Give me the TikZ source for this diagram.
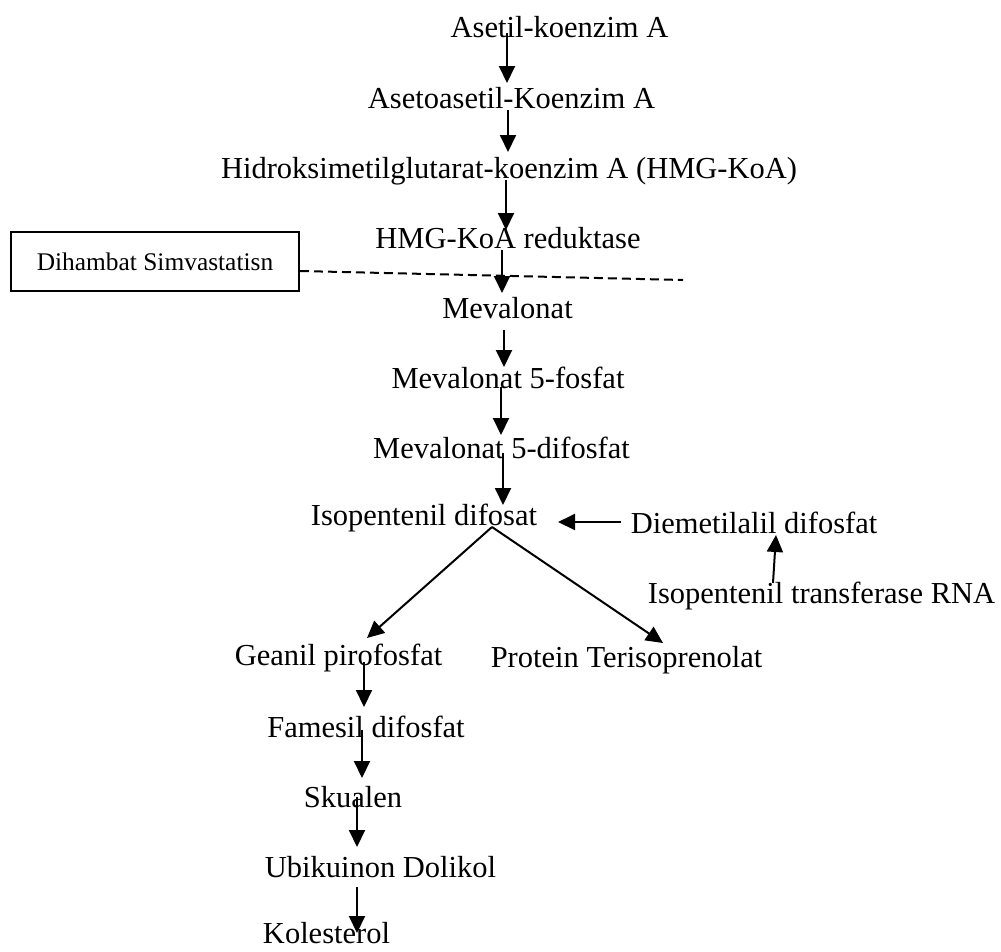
\documentclass[tikz,border=0pt]{standalone}
\usepackage{fontspec}
\setmainfont{Liberation Serif}
\usetikzlibrary{arrows.meta}
\begin{document}
\begin{tikzpicture}[x=1pt,y=-1pt,
  lbl/.style={inner sep=0pt,anchor=base,font=\fontsize{30.5}{36}\selectfont},
  boxnode/.style={draw,line width=2pt,minimum width=288pt,minimum height=59pt,inner sep=0pt,font=\fontsize{25.4}{30}\selectfont},
  arr/.style={line width=2pt,-{Triangle[length=17pt,width=16pt]}},
  dashline/.style={line width=2pt,dash pattern=on 9pt off 5pt}]
\useasboundingbox (0,0) rectangle (1001,951);
\node[lbl] (n1) at (559.5,37) {Asetil-koenzim A};
\node[lbl] (n2) at (511.5,108) {Asetoasetil-Koenzim A};
\node[lbl] (n3) at (509,178) {Hidroksimetilglutarat-koenzim A (HMG-KoA)};
\node[lbl] (n4) at (508,248) {HMG-KoA reduktase};
\node[lbl] (n5) at (507.5,318) {Mevalonat};
\node[lbl] (n6) at (508,388) {Mevalonat 5-fosfat};
\node[lbl] (n7) at (501.5,458) {Mevalonat 5-difosfat};
\node[lbl] (n8) at (424,525) {Isopentenil difosat};
\node[lbl] (n9) at (754,533) {Diemetilalil difosfat};
\node[lbl] (n10) at (821.5,603) {Isopentenil transferase RNA};
\node[lbl] (n11) at (338.5,665) {Geanil pirofosfat};
\node[lbl] (n12) at (626.5,667) {Protein Terisoprenolat};
\node[lbl] (n13) at (366,737) {Famesil difosfat};
\node[lbl] (n14) at (353,807) {Skualen};
\node[lbl] (n15) at (380.5,877) {Ubikuinon Dolikol};
\node[lbl] (n16) at (326.5,943) {Kolesterol};
\node[boxnode] (box) at (155,261.5) {Dihambat Simvastatisn};
\coordinate (dEnd) at (683,280);
\draw[dashline] ([shift={(0,9.5)}]box.east) -- (dEnd);
\draw[arr] ([shift={(-52.5,-4)}]n1.base) -- ([shift={(-4.5,-25)}]n2.base);
\draw[arr] ([shift={(-3.5,2)}]n2.base) -- ([shift={(-1,-26)}]n3.base);
\draw[arr] ([shift={(-3,2)}]n3.base) -- ([shift={(-2,-18)}]n4.base);
\draw[arr] ([shift={(-6,2)}]n4.base) -- ([shift={(-5.5,-25)}]n5.base);
\draw[arr] ([shift={(-3.5,12)}]n5.base) -- ([shift={(-4,-21)}]n6.base);
\draw[arr] ([shift={(-7,-1)}]n6.base) -- ([shift={(-0.5,-23)}]n7.base);
\draw[arr] ([shift={(1.5,-5)}]n7.base) -- ([shift={(79,-20)}]n8.base);
\draw[arr] ([shift={(68,2)}]n8.base) -- ([shift={(28.5,-27)}]n11.base);
\draw[arr] ([shift={(68,2)}]n8.base) -- ([shift={(36.5,-24)}]n12.base);
\draw[arr] ([shift={(-133,-11)}]n9.base) -- ([shift={(134,-3)}]n8.base);
\draw[arr] ([shift={(-48.5,-20)}]n10.base) -- ([shift={(22,2)}]n9.base);
\draw[arr] ([shift={(25.5,-3)}]n11.base) -- ([shift={(-2,-30)}]n13.base);
\draw[arr] ([shift={(-4,-7)}]n13.base) -- ([shift={(9,-29)}]n14.base);
\draw[arr] ([shift={(4,-10)}]n14.base) -- ([shift={(-23.5,-30)}]n15.base);
\draw[arr] ([shift={(-23.5,10)}]n15.base) -- ([shift={(30.5,-10)}]n16.base);
\end{tikzpicture}
\end{document}
